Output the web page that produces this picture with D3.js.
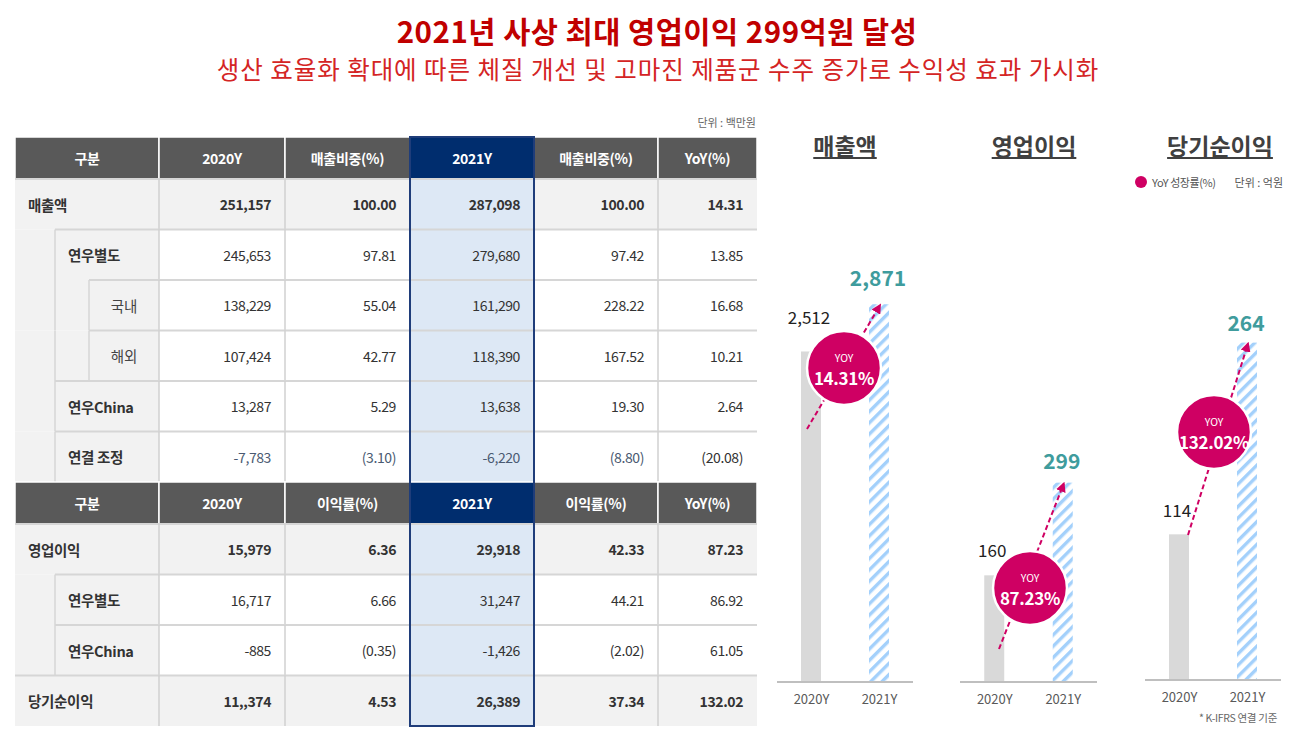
<!DOCTYPE html>
<html><head><meta charset="utf-8">
<script src="https://cdn.jsdelivr.net/npm/d3@7"></script>
<style>
body{margin:0;background:#fff}
svg{display:block}
text{font-family:"Noto Sans CJK KR","Noto Sans",sans-serif}
</style>
</head><body>
<svg id="c" width="1299" height="733"></svg>
<script>
// ---------------- DATA ----------------
const titleText = "2021년 사상 최대 영업이익 299억원 달성";
const subtitleText = "생산 효율화 확대에 따른 체질 개선 및 고마진 제품군 수주 증가로 수익성 효과 가시화";
const tableUnit = "단위 : 백만원";

const salesHeaders = ["구분", "2020Y", "매출비중(%)", "2021Y", "매출비중(%)", "YoY(%)"];
const salesLabels = ["매출액", "연우별도", "국내", "해외", "연우China", "연결 조정"];
const salesLevels = [0, 1, 2, 2, 1, 1];
const sales2020 = ["251,157", "245,653", "138,229", "107,424", "13,287", "-7,783"];
const salesShare2020 = ["100.00", "97.81", "55.04", "42.77", "5.29", "(3.10)"];
const sales2021 = ["287,098", "279,680", "161,290", "118,390", "13,638", "-6,220"];
const salesShare2021 = ["100.00", "97.42", "228.22", "167.52", "19.30", "(8.80)"];
const salesYoY = ["14.31", "13.85", "16.68", "10.21", "2.64", "(20.08)"];

const profitHeaders = ["구분", "2020Y", "이익률(%)", "2021Y", "이익률(%)", "YoY(%)"];
const profitLabels = ["영업이익", "연우별도", "연우China", "당기순이익"];
const profitLevels = [0, 1, 1, 0];
const profit2020 = ["15,979", "16,717", "-885", "11,,374"];
const profitMargin2020 = ["6.36", "6.66", "(0.35)", "4.53"];
const profit2021 = ["29,918", "31,247", "-1,426", "26,389"];
const profitMargin2021 = ["42.33", "44.21", "(2.02)", "37.34"];
const profitYoY = ["87.23", "86.92", "61.05", "132.02"];

const chartTitles = ["매출액", "영업이익", "당기순이익"];
const years = ["2020Y", "2021Y"];
const revenue = [2512, 2871];          // 억원
const operatingProfit = [160, 299];
const netProfit = [114, 264];
const yoyRates = [14.31, 87.23, 132.02];
const legendLabel = "YoY 성장률(%)";
const chartUnit = "단위 : 억원";
const footnote = "* K-IFRS 연결 기준";

// ---------------- STYLE / LAYOUT ----------------
const RED = "#c00000", SUBRED = "#d42424";
const MAGENTA = "#cf0063", TEAL = "#3f9c9d";
const HDR = "#595959", NAVY = "#002d6e", NAVY_LINE = "#1f3d7a";
const LIGHT = "#f2f2f2", BLUE_CELL = "#dde8f5";
const colEdges = [15, 159, 285, 410, 534, 658, 757];
const indent = [0, 40, 74];
const headerH = 42, rowH = 50.5;

const svg = d3.select("#c");

// defs: hatch + arrow marker
const defs = svg.append("defs");
const pat = defs.append("pattern").attr("id", "hatch")
  .attr("patternUnits", "userSpaceOnUse").attr("width", 8).attr("height", 8)
  .attr("patternTransform", "rotate(45)");
pat.append("rect").attr("width", 8).attr("height", 8).attr("fill", "#fff");
pat.append("rect").attr("width", 3.4).attr("height", 8).attr("fill", "#a3d0fb");
defs.append("marker").attr("id", "arrow").attr("viewBox", "0 0 10 10")
  .attr("refX", 8).attr("refY", 5).attr("markerWidth", 5).attr("markerHeight", 5)
  .attr("orient", "auto").append("path").attr("d", "M0,0 L10,5 L0,10 z").attr("fill", MAGENTA);

// titles
svg.append("text").attr("x", 657).attr("y", 30).attr("text-anchor", "middle")
  .attr("dominant-baseline", "central").attr("font-size", 29.5).attr("font-weight", 700)
  .attr("letter-spacing", 0.5).attr("fill", RED).text(titleText);
svg.append("text").attr("x", 658).attr("y", 68).attr("text-anchor", "middle")
  .attr("dominant-baseline", "central").attr("font-size", 24.5).attr("font-weight", 400)
  .attr("letter-spacing", 0.95).attr("fill", SUBRED).text(subtitleText);

// ---------------- TABLE ----------------
svg.append("text").attr("x", 756).attr("y", 122).attr("text-anchor", "end")
  .attr("dominant-baseline", "central").attr("font-size", 11).attr("fill", "#666").text(tableUnit);

const tbl = svg.append("g");

function drawSection(y0, headers, labels, levels, cols) {
  // header
  const hg = tbl.append("g");
  hg.selectAll("rect").data(headers).join("rect")
    .attr("x", (d, i) => colEdges[i]).attr("y", y0)
    .attr("width", (d, i) => colEdges[i + 1] - colEdges[i]).attr("height", headerH)
    .attr("fill", (d, i) => i === 3 ? NAVY : HDR)
    .attr("stroke", "#fff").attr("stroke-width", 1.5);
  hg.selectAll("text").data(headers).join("text")
    .attr("x", (d, i) => (colEdges[i] + colEdges[i + 1]) / 2).attr("y", y0 + headerH / 2)
    .attr("text-anchor", "middle").attr("dominant-baseline", "central")
    .attr("font-size", 14).attr("font-weight", 700).attr("fill", "#fff")
    .attr("letter-spacing", -0.3).text(d => d);

  const ry = i => y0 + headerH + i * rowH;
  labels.forEach((lab, r) => {
    const lv = levels[r], y = ry(r);
    const g = tbl.append("g");
    // left strip
    g.append("rect").attr("x", colEdges[0]).attr("y", y).attr("width", colEdges[1] - colEdges[0])
      .attr("height", rowH).attr("fill", LIGHT);
    // data cells
    for (let c = 1; c < 6; c++) {
      g.append("rect").attr("x", colEdges[c]).attr("y", y)
        .attr("width", colEdges[c + 1] - colEdges[c]).attr("height", rowH)
        .attr("fill", c === 3 ? BLUE_CELL : (lv === 0 ? LIGHT : "#fff"));
    }
    // top line
    g.append("line").attr("x1", colEdges[0] + indent[lv]).attr("x2", colEdges[6])
      .attr("y1", y).attr("y2", y).attr("stroke", "#d6d6d6").attr("stroke-width", 2);
    // nested vertical lines
    if (lv >= 1) g.append("line").attr("x1", colEdges[0] + indent[1]).attr("x2", colEdges[0] + indent[1])
      .attr("y1", y).attr("y2", y + rowH).attr("stroke", "#d6d6d6").attr("stroke-width", 1.5);
    if (lv >= 2) g.append("line").attr("x1", colEdges[0] + indent[2]).attr("x2", colEdges[0] + indent[2])
      .attr("y1", y).attr("y2", y + rowH).attr("stroke", "#d6d6d6").attr("stroke-width", 1.5);
    // column lines
    for (let c = 1; c < 6; c++) {
      g.append("line").attr("x1", colEdges[c]).attr("x2", colEdges[c]).attr("y1", y).attr("y2", y + rowH)
        .attr("stroke", "#d0d0d0").attr("stroke-width", 1.5);
    }
    // label
    const lx = lv === 2 ? (colEdges[0] + indent[2] + colEdges[1]) / 2 : colEdges[0] + indent[lv] + 13;
    g.append("text").attr("x", lx).attr("y", y + rowH / 2)
      .attr("text-anchor", lv === 2 ? "middle" : "start").attr("dominant-baseline", "central")
      .attr("font-size", 14.5).attr("font-weight", lv === 2 ? 400 : 700)
      .attr("fill", lv === 2 ? "#444" : "#333").attr("letter-spacing", lv === 2 ? 0 : -0.3).text(lab);
    // values
    cols.forEach((arr, ci) => {
      const c = ci + 1;
      const isAdj = lab === "연결 조정" && c < 5;
      g.append("text").attr("x", colEdges[c + 1] - 14).attr("y", y + rowH / 2)
        .attr("text-anchor", "end").attr("dominant-baseline", "central")
        .attr("font-size", 14).attr("font-weight", lv === 0 ? 700 : 400)
        .attr("letter-spacing", -0.4)
        .attr("fill", isAdj ? "#4a5a72" : "#333").text(arr[r]);
    });
  });
  return y0 + headerH + labels.length * rowH;
}

const salesEnd = drawSection(137, salesHeaders, salesLabels, salesLevels,
  [sales2020, salesShare2020, sales2021, salesShare2021, salesYoY]);
const tableEnd = drawSection(salesEnd, profitHeaders, profitLabels, profitLevels,
  [profit2020, profitMargin2020, profit2021, profitMargin2021, profitYoY]);

tbl.append("rect").attr("x", colEdges[3]).attr("y", 137)
  .attr("width", colEdges[4] - colEdges[3]).attr("height", tableEnd - 137)
  .attr("fill", "none").attr("stroke", NAVY_LINE).attr("stroke-width", 2);

// ---------------- BAR PANELS ----------------
const series = [revenue, operatingProfit, netProfit];
const panelLayout = [
  { x0: 777, x1: 913, base: 682, titleX: 845, max: 3040, circle: [844, 368], from: [807, 429], lab0: 35, lab1: 27 },
  { x0: 960, x1: 1097, base: 682, titleX: 1034, max: 600, circle: [1030, 588], from: [999, 649], lab0: 26, lab1: 23 },
  { x0: 1145, x1: 1281, base: 680, titleX: 1220, max: 313, circle: [1214, 432], from: [1188, 535], lab0: 25, lab1: 21 }
];
const fmt = d3.format(",");

series.forEach((vals, p) => {
  const L = panelLayout[p];
  const g = svg.append("g");
  const x = d3.scalePoint().domain(years).range([L.x0, L.x1]).padding(0.5);
  const y = d3.scaleLinear().domain([0, L.max]).range([L.base, L.base - 400]);
  const bw = 20;

  // title
  const t = g.append("text").attr("x", L.titleX).attr("y", 145).attr("text-anchor", "middle")
    .attr("dominant-baseline", "central").attr("font-size", 23).attr("font-weight", 700)
    .attr("fill", "#404040").text(chartTitles[p]);
  const tw = t.node().getComputedTextLength();
  g.append("line").attr("x1", L.titleX - tw / 2).attr("x2", L.titleX + tw / 2)
    .attr("y1", 158).attr("y2", 158).attr("stroke", "#404040").attr("stroke-width", 2);

  // bars
  g.selectAll("rect.bar").data(vals).join("rect").attr("class", "bar")
    .attr("x", (d, i) => x(years[i]) - bw / 2).attr("width", bw)
    .attr("y", d => y(d)).attr("height", d => y(0) - y(d))
    .attr("fill", (d, i) => i === 0 ? "#d9d9d9" : "url(#hatch)");

  // axis
  const ax = g.append("g").attr("transform", `translate(0,${L.base})`)
    .call(d3.axisBottom(x).tickSize(0).tickPadding(13));
  ax.select(".domain").attr("d", `M${L.x0},0H${L.x1}`).attr("stroke", "#bfbfbf").attr("stroke-width", 2);
  ax.selectAll("text").attr("font-size", 13).attr("fill", "#595959")
    .attr("font-family", "'Noto Sans CJK KR', sans-serif");

  // value labels
  g.append("text").attr("x", x(years[0]) - 2).attr("y", y(vals[0]) - L.lab0)
    .attr("text-anchor", "middle").attr("dominant-baseline", "central")
    .attr("font-size", 17).attr("fill", "#222").text(fmt(vals[0]));
  g.append("text").attr("x", x(years[1]) - 1).attr("y", y(vals[1]) - L.lab1)
    .attr("text-anchor", "middle").attr("dominant-baseline", "central")
    .attr("font-size", 21).attr("font-weight", 700).attr("fill", TEAL).text(fmt(vals[1]));

  // arrow
  g.append("line").attr("x1", L.from[0]).attr("y1", L.from[1])
    .attr("x2", x(years[1]) + 1).attr("y2", y(vals[1]) + 1)
    .attr("stroke", MAGENTA).attr("stroke-width", 2).attr("stroke-dasharray", "5,3")
    .attr("marker-end", "url(#arrow)");

  // YoY bubble
  const [cx, cy] = L.circle;
  g.append("circle").attr("cx", cx).attr("cy", cy).attr("r", 37)
    .attr("fill", MAGENTA).attr("stroke", "#fff").attr("stroke-width", 2.5);
  g.append("text").attr("x", cx).attr("y", cy - 11).attr("text-anchor", "middle")
    .attr("dominant-baseline", "central").attr("font-size", 10.5).attr("fill", "#fff").text("YOY");
  g.append("text").attr("x", cx).attr("y", cy + 9).attr("text-anchor", "middle")
    .attr("dominant-baseline", "central").attr("font-size", 17).attr("font-weight", 700)
    .attr("fill", "#fff").attr("letter-spacing", -0.3).text(yoyRates[p].toFixed(2) + "%");
});

// legend & notes
svg.append("circle").attr("cx", 1141).attr("cy", 182).attr("r", 6).attr("fill", MAGENTA);
svg.append("text").attr("x", 1152).attr("y", 182).attr("dominant-baseline", "central")
  .attr("font-size", 11).attr("fill", "#555").attr("letter-spacing", -0.4).text(legendLabel);
svg.append("text").attr("x", 1283).attr("y", 182).attr("text-anchor", "end").attr("dominant-baseline", "central")
  .attr("font-size", 11).attr("fill", "#555").text(chartUnit);
svg.append("text").attr("x", 1277).attr("y", 717).attr("text-anchor", "end").attr("dominant-baseline", "central")
  .attr("font-size", 10.5).attr("fill", "#666").attr("letter-spacing", -0.3).text(footnote);
</script>
</body></html>
